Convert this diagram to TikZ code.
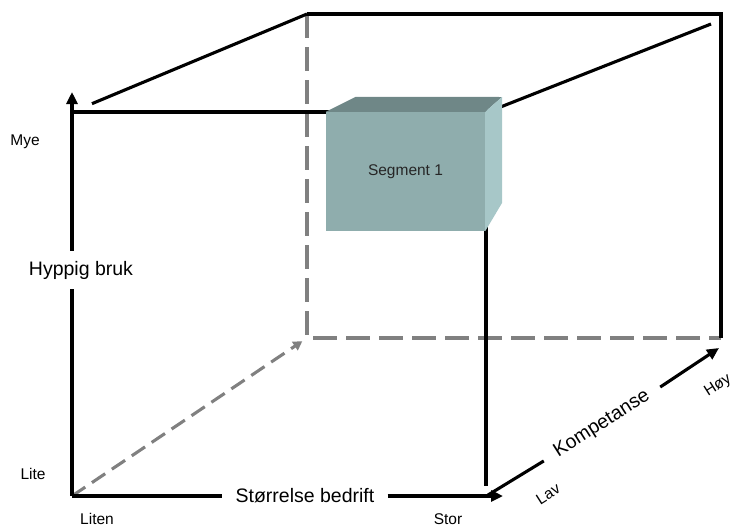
\documentclass[tikz,border=0pt]{standalone}
\usepackage{fontspec}
\setmainfont{Liberation Sans}
\usepackage{tikz}
\usetikzlibrary{arrows,arrows.meta,calc}

\definecolor{segfront}{RGB}{143,173,173}
\definecolor{segtop}{RGB}{111,135,135}
\definecolor{segside}{RGB}{167,199,200}
\definecolor{cubegray}{RGB}{128,128,128}

\begin{document}
\begin{tikzpicture}[x=1pt,y=-1pt,>={Triangle[length=12pt,width=11pt]}]
\tikzstyle{edge}=[line width=3.1pt, black]
\tikzstyle{hidden}=[line width=3.1pt, cubegray, dash pattern=on 24pt off 9pt]
\tikzstyle{big}=[font=\fontsize{19.5}{22}\selectfont, inner sep=0pt]
\tikzstyle{small}=[font=\fontsize{15.5}{18}\selectfont, inner sep=0pt]
\tikzstyle{seg}=[fill=segfront, minimum width=159pt, minimum height=119pt,
small, text=black!85]

\useasboundingbox (0,0) rectangle (736,528);

% corners of the cube
\coordinate (origin) at (72,496);
\coordinate (ytip) at (72,92);
\coordinate (ftl) at (72,112);
\coordinate (ftr) at (486,112);
\coordinate (fbr) at (486,486);
\coordinate (xtip) at (503,496);
\coordinate (btl) at (307,14);
\coordinate (btr) at (721,14);
\coordinate (bbr) at (721,338);
\coordinate (bbl) at (307,338);
\coordinate (kstart) at (488,495);
\coordinate (ktip) at (719,348);

% axis labels
\path (81,270) node (hyppig) [big, inner ysep=10pt] {Hyppig bruk};
\path (305,496) node (storrelse) [big, inner xsep=13pt] {Størrelse bedrift};
\path (602,424) node (komp) [big, rotate=32.4, inner xsep=14pt] {Kompetanse};
\path (25,142) node (mye) [small] {Mye};
\path (33,474) node (lite) [small] {Lite};
\path (97,519) node (liten) [small] {Liten};
\path (448,519) node (stor) [small] {Stor};
\path (548,494) node (lav) [small, rotate=32.4] {Lav};
\path (718,386) node (hoy) [small, rotate=32.4] {Høy};

% back edges
\draw [hidden] (btl) -- (bbl) -- (bbr);
\draw [hidden, dash pattern=on 16pt off 8pt, -{Triangle[length=9pt,width=10pt]}]
(origin) -- ($(origin)!0.98!(bbl)$);
\draw [edge] (btl) -- (btr) -- (bbr);

% front edges
\draw [edge] (ftl) -- (ftr) -- (fbr);
\draw [edge] ($(ftl)!0.085!(btl)$) -- (btl);
\draw [edge] (498,108) -- (711,24);

% axes
\draw [edge] (origin) -- (hyppig.south -| origin);
\draw [edge, ->] (hyppig.north -| origin) -- (ytip);
\draw [edge] (origin) -- (storrelse.west);
\draw [edge, ->] (storrelse.east) -- (xtip);
\draw [edge] (kstart) -- (komp.west);
\draw [edge, ->] (komp.east) -- (ktip);

% segment box
\path (405.5,171.5) node (segment) [seg] {Segment 1};
\fill [segtop] (segment.north west) -- ++(30,-15) -- (502,97)
-- (segment.north east) -- cycle;
\fill [segside] (segment.north east) -- (502,97) -- (502,203)
-- (segment.south east) -- cycle;
\end{tikzpicture}
\end{document}
